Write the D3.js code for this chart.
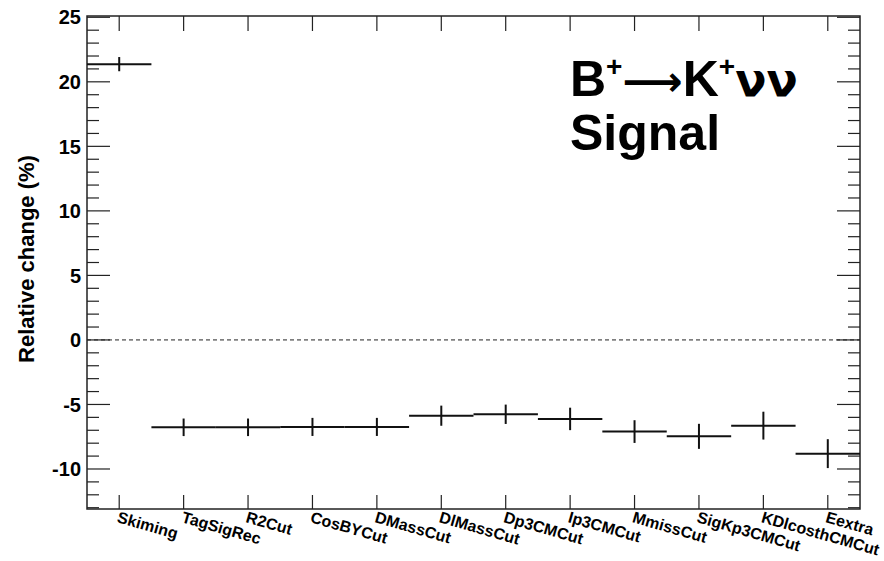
<!DOCTYPE html>
<html><head><meta charset="utf-8">
<script src="https://cdn.jsdelivr.net/npm/d3@7"></script>
<style>body{margin:0;background:#fff}</style>
</head><body>
<script>
const categories = ["Skiming","TagSigRec","R2Cut","CosBYCut","DMassCut","DlMassCut","Dp3CMCut","Ip3CMCut","MmissCut","SigKp3CMCut","KDlcosthCMCut","Eextra"];
const values = [21.37,-6.77,-6.77,-6.74,-6.74,-5.87,-5.76,-6.12,-7.10,-7.47,-6.64,-8.81];
const errors = [0.55,0.68,0.68,0.70,0.70,0.78,0.75,0.87,0.88,0.97,1.08,1.12];
const yTicks = [-10,-5,0,5,10,15,20,25];

const W=884,H=561;
const L=87,R=860,T=16,B=509;
const svg=d3.select("body").append("svg").attr("width",W).attr("height",H);
const x=d3.scaleLinear().domain([0,categories.length]).range([L,R]);
const y=d3.scaleLinear().domain([-13.1,25.1]).range([B,T]);
const ink="#222";
const FF="Liberation Sans, Arial, sans-serif";

svg.append("rect").attr("x",L).attr("y",T).attr("width",R-L).attr("height",B-T)
  .attr("fill","none").attr("stroke",ink).attr("stroke-width",1.5);

const minor=d3.range(-13,26,1);
minor.forEach(v=>{
  const major=v%5===0;
  const len=major?23:12;
  svg.append("line").attr("x1",L).attr("x2",L+len).attr("y1",y(v)).attr("y2",y(v)).attr("stroke",ink).attr("stroke-width",1.2);
  svg.append("line").attr("x1",R).attr("x2",R-len).attr("y1",y(v)).attr("y2",y(v)).attr("stroke",ink).attr("stroke-width",1.2);
});
yTicks.forEach(v=>{
  svg.append("text").attr("x",81).attr("y",y(v)).attr("dy","0.36em").attr("text-anchor","end")
    .attr("font-family",FF).attr("font-weight","bold").attr("font-size",20)
    .attr("fill","#000").text(v);
});

categories.forEach((c,i)=>{
  const cx=x(i+0.5);
  svg.append("line").attr("x1",cx).attr("x2",cx).attr("y1",B).attr("y2",B-14).attr("stroke",ink).attr("stroke-width",1.2);
  svg.append("line").attr("x1",cx).attr("x2",cx).attr("y1",T).attr("y2",T+15).attr("stroke",ink).attr("stroke-width",1.2);
  svg.append("text").attr("transform",`translate(${cx-3},${B+13}) rotate(16)`)
    .attr("font-family",FF).attr("font-weight","bold").attr("font-size",16)
    .attr("fill","#000").text(c);
});

svg.append("line").attr("x1",L).attr("x2",R).attr("y1",y(0)).attr("y2",y(0))
  .attr("stroke",ink).attr("stroke-width",1).attr("stroke-dasharray","4,3");

const g=svg.append("g");
values.forEach((v,i)=>{
  g.append("line").attr("x1",x(i)).attr("x2",x(i+1)).attr("y1",y(v)).attr("y2",y(v)).attr("stroke","#111").attr("stroke-width",2);
  g.append("line").attr("x1",x(i+0.5)).attr("x2",x(i+0.5)).attr("y1",y(v-errors[i])).attr("y2",y(v+errors[i])).attr("stroke","#111").attr("stroke-width",2);
});

svg.append("text").attr("transform",`translate(34,259) rotate(-90)`).attr("text-anchor","middle")
  .attr("font-family",FF).attr("font-weight","bold").attr("font-size",22)
  .attr("fill","#000").text("Relative change (%)");

const lt=svg.append("text").attr("x",570).attr("y",96)
  .attr("font-family",FF).attr("font-weight","bold").attr("font-size",50).attr("fill","#000");
lt.append("tspan").text("B");
lt.append("tspan").attr("font-size",28).attr("dy",-20).text("+");
lt.append("tspan").attr("dy",20).attr("font-family","DejaVu Sans").attr("font-weight","bold").attr("font-size",42).text("⟶");
lt.append("tspan").text("K");
lt.append("tspan").attr("font-size",28).attr("dy",-20).text("+");
lt.append("tspan").attr("dy",20).attr("font-family","DejaVu Sans").attr("font-size",46).text("νν");
svg.append("text").attr("x",570).attr("y",150)
  .attr("font-family",FF).attr("font-weight","bold").attr("font-size",50).attr("fill","#000").text("Signal");
</script>
</body></html>
